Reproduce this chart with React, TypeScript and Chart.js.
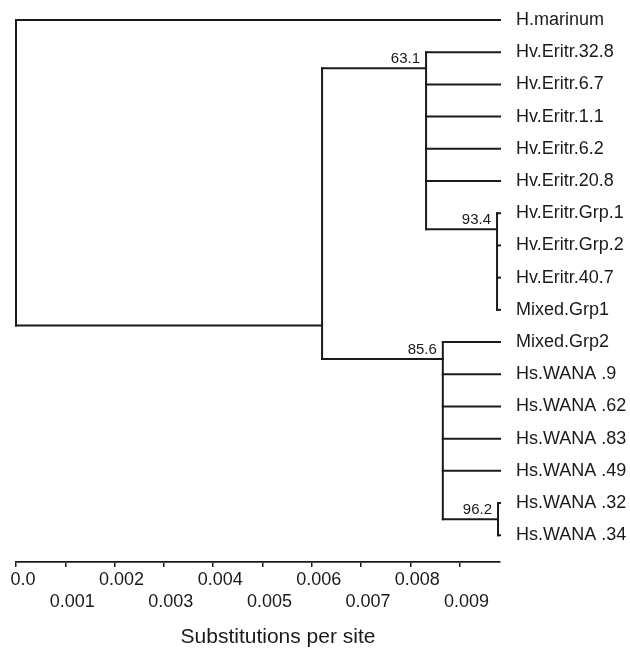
import React, { useEffect, useRef } from 'react';
import { Chart, registerables } from 'chart.js';

Chart.register(...registerables);

// ---- data ----
const leafNames = [
  'H.marinum',
  'Hv.Eritr.32.8',
  'Hv.Eritr.6.7',
  'Hv.Eritr.1.1',
  'Hv.Eritr.6.2',
  'Hv.Eritr.20.8',
  'Hv.Eritr.Grp.1',
  'Hv.Eritr.Grp.2',
  'Hv.Eritr.40.7',
  'Mixed.Grp1',
  'Mixed.Grp2',
  'Hs.WANA .9',
  'Hs.WANA .62',
  'Hs.WANA .83',
  'Hs.WANA .49',
  'Hs.WANA .32',
  'Hs.WANA .34',
];
// distance from root (substitutions per site) of each leaf tip
const leafDepth = [
  0.00982, 0.00982, 0.00982, 0.00982, 0.00982, 0.00982, 0.00982, 0.00982, 0.00982,
  0.00982, 0.00982, 0.00982, 0.00982, 0.00982, 0.00982, 0.00982, 0.00982,
];
// index of the internal node each leaf hangs from
const leafParent = [0, 2, 2, 2, 2, 2, 3, 3, 3, 3, 4, 4, 4, 4, 4, 5, 5];

// internal nodes: root, A, B, C, D, E
const nodeDepth = [0, 0.00621, 0.00832, 0.00976, 0.00866, 0.00978];
const nodeRow = [0, 9.49, 1.5, 6.5, 10.53, 15.5];
const nodeParent = [-1, 0, 1, 2, 1, 4];
const nodeSupport = ['', '', '63.1', '93.4', '85.6', '96.2'];

const xTicks = [0, 0.001, 0.002, 0.003, 0.004, 0.005, 0.006, 0.007, 0.008, 0.009];
const xTickLabels = ['0.0', '0.001', '0.002', '0.003', '0.004', '0.005', '0.006', '0.007', '0.008', '0.009'];
const axisMax = 0.00982;
const rowMax = 16.83;
const axisTitle = 'Substitutions per site';

// ---- styling ----
const INK = '#1a1a1a';
const FONT = '"Liberation Sans", Arial, Helvetica, sans-serif';

type Seg = { x: number; y: number }[];

function buildSegments(): Seg[] {
  const segs: Seg[] = [];
  // leaf horizontal branches
  leafNames.forEach((_, i) => {
    const px = nodeDepth[leafParent[i]];
    segs.push([
      { x: px, y: i },
      { x: leafDepth[i], y: i },
    ]);
  });
  // internal horizontal branches
  nodeDepth.forEach((d, j) => {
    const p = nodeParent[j];
    if (p < 0) return;
    segs.push([
      { x: nodeDepth[p], y: nodeRow[j] },
      { x: d, y: nodeRow[j] },
    ]);
  });
  // vertical connectors
  nodeDepth.forEach((d, j) => {
    const rows: number[] = [];
    leafParent.forEach((p, i) => {
      if (p === j) rows.push(i);
    });
    nodeParent.forEach((p, k) => {
      if (p === j) rows.push(nodeRow[k]);
    });
    if (!rows.length) return;
    segs.push([
      { x: d, y: Math.min(...rows) },
      { x: d, y: Math.max(...rows) },
    ]);
  });
  return segs;
}

const supportPlugin = {
  id: 'supportLabels',
  afterDatasetsDraw(chart: any) {
    const { ctx } = chart;
    const xs = chart.scales.x;
    const ys = chart.scales.y;
    ctx.save();
    ctx.font = `15px ${FONT}`;
    ctx.fillStyle = INK;
    ctx.textAlign = 'right';
    ctx.textBaseline = 'alphabetic';
    nodeSupport.forEach((s, j) => {
      if (!s) return;
      const px = xs.getPixelForValue(nodeDepth[j]);
      const py = ys.getPixelForValue(nodeRow[j]);
      ctx.fillText(s, px - 6, py - 5);
    });
    ctx.restore();
  },
};

const titlePlugin = {
  id: 'axisTitle',
  afterDraw(chart: any) {
    const { ctx } = chart;
    const xs = chart.scales.x;
    ctx.save();
    ctx.font = `21px ${FONT}`;
    ctx.fillStyle = INK;
    ctx.textAlign = 'center';
    ctx.textBaseline = 'alphabetic';
    ctx.fillText(axisTitle, (xs.left + xs.right) / 2 + 20, xs.bottom - 5);
    ctx.restore();
  },
};

export default function App() {
  const ref = useRef<HTMLCanvasElement | null>(null);

  useEffect(() => {
    if (!ref.current) return;
    const segs = buildSegments();
    const chart = new Chart(ref.current, {
      type: 'scatter',
      data: {
        datasets: segs.map((s) => ({
          data: s,
          showLine: true,
          pointRadius: 0,
          pointHoverRadius: 0,
          borderColor: INK,
          borderWidth: 2,
          borderCapStyle: 'square' as const,
          fill: false,
          tension: 0,
          clip: false as any,
        })),
      },
      options: {
        responsive: false,
        animation: false,
        events: [],
        layout: { padding: { left: 16, top: 20, right: 0, bottom: 0 } },
        plugins: {
          legend: { display: false },
          tooltip: { enabled: false },
          title: { display: false },
        },
        scales: {
          x: {
            type: 'linear',
            position: 'bottom',
            min: 0,
            max: axisMax,
            afterBuildTicks: (s: any) => {
              s.ticks = xTicks.map((v) => ({ value: v }));
            },
            afterFit: (s: any) => {
              s.height = 86;
              s.paddingLeft = 0;
              s.paddingRight = 0;
            },
            ticks: {
              autoSkip: false,
              maxRotation: 0,
              minRotation: 0,
              padding: 2,
              labelOffset: 7,
              color: INK,
              font: { family: FONT, size: 18, lineHeight: 1.22 },
              callback: (_v: any, i: number) =>
                i % 2 === 0 ? [xTickLabels[i]] : ['', xTickLabels[i]],
            },
            grid: {
              display: true,
              drawOnChartArea: false,
              drawTicks: true,
              tickLength: 5,
              color: INK,
              lineWidth: 1.5,
            },
            border: { display: true, color: INK, width: 1.8 },
          },
          y: {
            type: 'linear',
            position: 'right',
            reverse: true,
            min: 0,
            max: rowMax,
            afterBuildTicks: (s: any) => {
              s.ticks = leafNames.map((_, i) => ({ value: i }));
            },
            afterFit: (s: any) => {
              s.width = 130;
              s.paddingTop = 0;
              s.paddingBottom = 0;
            },
            ticks: {
              autoSkip: false,
              padding: 16,
              color: INK,
              font: { family: FONT, size: 18 },
              callback: (v: any) => leafNames[Math.round(Number(v))] ?? '',
            },
            grid: { display: false, drawTicks: false },
            border: { display: false },
          },
        },
      } as any,
      plugins: [supportPlugin, titlePlugin],
    });
    return () => chart.destroy();
  }, []);

  return (
    <div style={{ position: 'absolute', left: 0, top: 0, width: 630, height: 648, background: '#fff' }}>
      <canvas ref={ref} width={630} height={648} />
    </div>
  );
}
